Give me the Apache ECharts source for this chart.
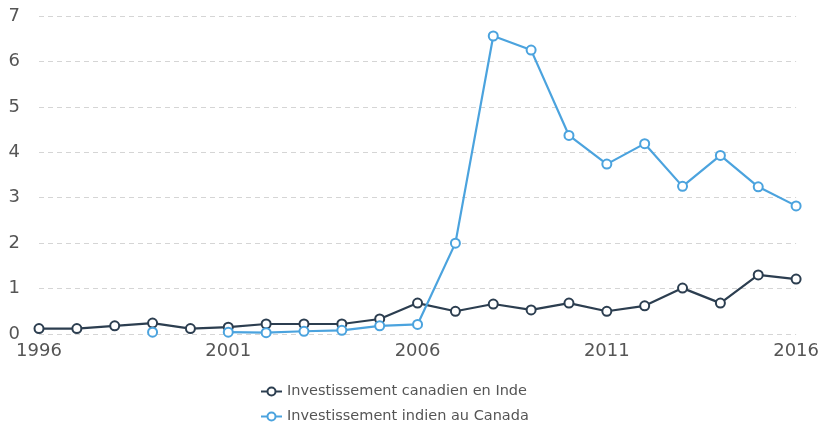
<!DOCTYPE html>
<html>
<head>
<meta charset="utf-8">
<script src="https://cdn.jsdelivr.net/npm/echarts@6/dist/echarts.min.js"></script>
<style>html,body{margin:0;padding:0;background:#fff;}#c{width:822px;height:427px;}</style>
</head>
<body>
<div id="c"></div>
<script>
const years = ['1996','1997','1998','1999','2000','2001','2002','2003','2004','2005','2006','2007','2008','2009','2010','2011','2012','2013','2014','2015','2016'];
const canadienEnInde = [0.12,0.12,0.18,0.24,0.12,0.15,0.22,0.22,0.22,0.33,0.68,0.50,0.66,0.53,0.68,0.50,0.62,1.01,0.68,1.30,1.21];
const indienAuCanada = [null,null,null,0.04,null,0.04,0.03,0.06,0.08,0.18,0.21,2.00,6.56,6.25,4.37,3.74,4.19,3.25,3.93,3.24,2.82];
const yTicks = [0,7,1];

const chart = echarts.init(document.getElementById('c'), null, {renderer:'canvas'});
chart.setOption({
  animation:false,
  backgroundColor:'#fff',
  grid:{left:39,right:23,top:16,bottom:93,containLabel:false},
  legend:{
    orient:'vertical',left:260,top:384,height:80,width:400,itemGap:10,itemWidth:21,itemHeight:10,
    padding:0,
    textStyle:{fontFamily:'DejaVu Sans',fontSize:14.5,color:'#555'},
    data:['Investissement canadien en Inde','Investissement indien au Canada']
  },
  xAxis:{
    type:'category',data:years,boundaryGap:false,
    axisLine:{show:false},axisTick:{show:false},
    axisLabel:{interval:4,color:'#555',fontFamily:'DejaVu Sans',fontSize:18,margin:8},
    splitLine:{show:false}
  },
  yAxis:{
    type:'value',min:yTicks[0],max:yTicks[1],interval:yTicks[2],
    axisLine:{show:false},axisTick:{show:false},
    axisLabel:{color:'#555',fontFamily:'DejaVu Sans',fontSize:18,margin:19},
    splitLine:{lineStyle:{color:'#d5d5d5',type:[5,4],width:1}}
  },
  series:[
    {name:'Investissement canadien en Inde',type:'line',data:canadienEnInde,
     symbol:'emptyCircle',symbolSize:9,
     lineStyle:{color:'#2c3e50',width:2.2},itemStyle:{color:'#2c3e50',borderWidth:1.5}},
    {name:'Investissement indien au Canada',type:'line',data:indienAuCanada,
     symbol:'emptyCircle',symbolSize:9,connectNulls:false,
     lineStyle:{color:'#4ba3de',width:2.2},itemStyle:{color:'#4ba3de',borderWidth:1.5}}
  ]
});
</script>
</body>
</html>
